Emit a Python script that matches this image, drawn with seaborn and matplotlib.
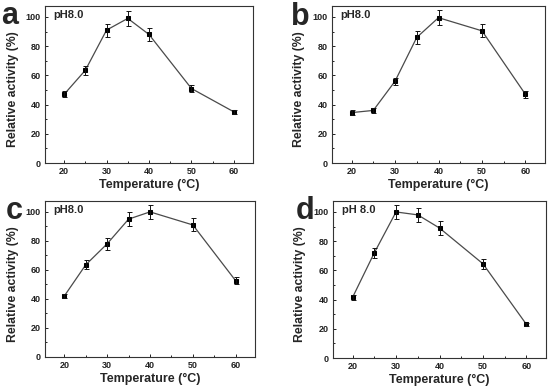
import matplotlib
matplotlib.use('Agg')

import pandas as pd
import matplotlib.pyplot as plt
import seaborn as sns
from matplotlib.ticker import MultipleLocator

temps = [20, 25, 30, 35, 40, 50, 60]

act_a = [47, 63.5, 91, 99, 88, 51, 35]
err_a = [2, 3, 4.5, 5, 4.5, 2.5, 1.5]
act_b = [34.5, 36, 56, 86, 99.5, 90.5, 47]
err_b = [1.5, 1.5, 2.5, 4.5, 5, 4.5, 2.5]
act_c = [42, 63.5, 78, 95, 100, 91, 52.5]
err_c = [1.5, 3, 4, 5, 5, 4.5, 2.5]
act_d = [41.5, 72, 100, 98, 89, 64.5, 23]
err_d = [1.5, 3.5, 5, 5, 4.5, 3.5, 1]

panels = ['a', 'b', 'c', 'd']
ph_labels = ['pH8.0', 'pH8.0', 'pH8.0', 'pH 8.0']

sns.set_style('ticks')
plt.rcParams['font.family'] = ['Liberation Sans', 'DejaVu Sans']
plt.rcParams['font.weight'] = 'bold'

fig = plt.figure(figsize=(5.5, 3.9), dpi=100)
# axes boxes in pixels: left, top, right, bottom
boxes = [(45, 6, 253, 163), (332, 6, 545, 163), (45, 201, 255, 357), (333, 201, 546, 358)]
# letter baselines in pixels
letter_pos = [(1, 24), (291, 25), (6, 219), (296, 219)]
data = [(act_a, err_a), (act_b, err_b), (act_c, err_c), (act_d, err_d)]

for i in range(4):
    l, t, r, b = boxes[i]
    ax = fig.add_axes([l / 550, 1 - b / 390, (r - l) / 550, (b - t) / 390])
    vals, errs = data[i]
    df = pd.DataFrame({'T': temps, 'A': vals})
    sns.lineplot(data=df, x='T', y='A', ax=ax, color='#4a4a4a', lw=0.9,
                 marker='s', markersize=3.2, markerfacecolor='black',
                 markeredgecolor='black')
    ax.errorbar(temps, vals, yerr=errs, fmt='none', ecolor='#111111',
                elinewidth=0.7, capsize=1.8, capthick=0.7)
    ax.set_xlim(15.5, 64.5)
    ax.set_ylim(0, 107.5)
    ax.xaxis.set_major_locator(MultipleLocator(10))
    ax.xaxis.set_minor_locator(MultipleLocator(5))
    ax.yaxis.set_major_locator(MultipleLocator(20))
    ax.yaxis.set_minor_locator(MultipleLocator(10))
    ax.tick_params(which='both', direction='in', labelsize=6.5, width=0.7,
                   pad=3, colors='#222222')
    ax.tick_params(which='major', length=2.5)
    ax.tick_params(which='minor', length=1.3)
    for s in ax.spines.values():
        s.set_linewidth(0.8)
        s.set_color('#333333')
    for lab in ax.get_xticklabels() + ax.get_yticklabels():
        lab.set_fontweight('bold')
    ax.set_xlabel('Temperature (\u00b0C)', fontsize=9, fontweight='bold', labelpad=2)
    ax.set_ylabel('Relative activity (%)', fontsize=8.8, fontweight='bold', labelpad=3)
    ax.yaxis.set_label_coords(-0.125, 0.47)
    ax.text(0.04, 0.943, ph_labels[i], transform=ax.transAxes, fontsize=8,
            fontweight='bold', va='center')
    fig.text(letter_pos[i][0] / 550, 1 - letter_pos[i][1] / 390, panels[i],
             fontsize=22, fontweight='bold', va='baseline', ha='left')

fig.savefig('out.png', dpi=100)
